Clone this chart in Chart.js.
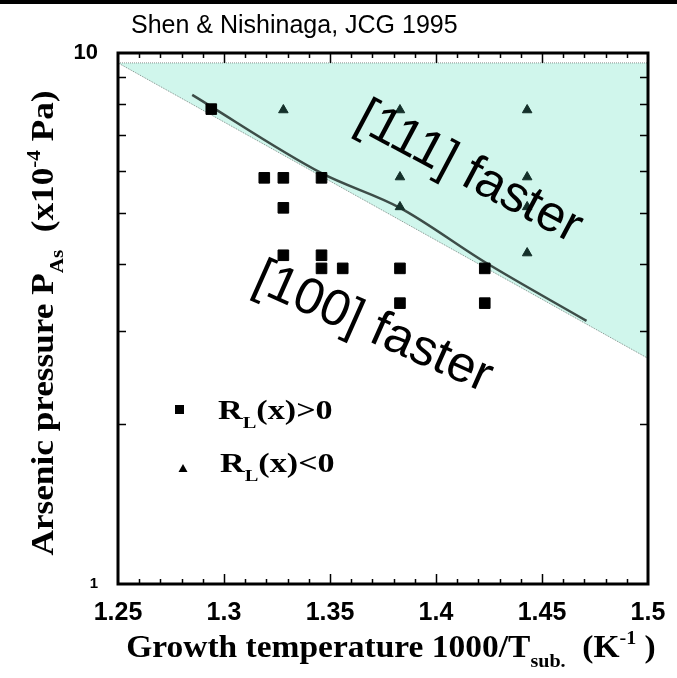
<!DOCTYPE html>
<html>
<head>
<meta charset="utf-8">
<script src="https://cdn.jsdelivr.net/npm/chart.js@4.4.1/dist/chart.umd.min.js"></script>
<style>
  html, body { margin: 0; padding: 0; background: #fff; }
  canvas { display: block; }
</style>
</head>
<body>
<canvas id="chart" width="677" height="678"></canvas>
<script>
// R_L(x) > 0 (squares)
const squareX = [1.294, 1.319, 1.328, 1.346, 1.328, 1.328, 1.346, 1.346, 1.356, 1.383, 1.383, 1.423, 1.423];
const squareY = [7.84, 5.82, 5.82, 5.82, 5.11, 4.16, 4.16, 3.93, 3.93, 3.93, 3.38, 3.93, 3.38];

// R_L(x) < 0 (triangles)
const triX = [1.328, 1.383, 1.383, 1.383, 1.443, 1.443, 1.443, 1.443];
const triY = [7.81, 7.81, 5.84, 5.13, 7.81, 5.84, 5.13, 4.20];

// boundary between [111] and [100] faster
const boundaryX = [1.285, 1.346, 1.383, 1.423, 1.471];
const boundaryY = [8.34, 5.94, 5.11, 4.04, 3.13];

// shaded "[111] faster" region
const shadeX = [1.25, 1.5, 1.5, 1.25];
const shadeY = [9.58, 9.58, 2.66, 9.58];

const xTickValues = [1.25, 1.3, 1.35, 1.4, 1.45, 1.5];
const yTickValues = [1, 10];

const SERIF = '"Liberation Serif", "DejaVu Serif", serif';
const SANS = '"Liberation Sans", Arial, sans-serif';

function toPoints(xs, ys) {
    return xs.map((x, i) => ({ x: x, y: ys[i] }));
}

// text runs with sub/superscripts, e.g. [{t:'R'}, {t:'L', sub:true}]
function runFont(r, size) {
    const s = (r.sub || r.sup) ? size * 0.6 : size;
    return `bold ${s}px ${SERIF}`;
}
function runsWidth(ctx, runs, size, sx) {
    let w = 0;
    runs.forEach(r => { ctx.font = runFont(r, size); w += ctx.measureText(r.t).width; });
    return w * sx;
}
function drawRuns(ctx, runs, x, y, size, sx) {
    ctx.save();
    ctx.translate(x, y);
    ctx.scale(sx, 1);
    ctx.textAlign = 'left';
    ctx.textBaseline = 'alphabetic';
    let cx = 0;
    runs.forEach(r => {
        ctx.font = runFont(r, size);
        let dy = 0;
        if (r.sub) dy = size * 0.32;
        if (r.sup) dy = -size * 0.42;
        ctx.fillText(r.t, cx, dy);
        cx += ctx.measureText(r.t).width;
    });
    ctx.restore();
}

const yTitle = [{ t: 'Arsenic pressure P' }, { t: 'As', sub: true }, { t: '  (x10' }, { t: '-4', sup: true }, { t: ' Pa)' }];
const xTitle = [{ t: 'Growth temperature 1000/T' }, { t: 'sub.', sub: true }, { t: '  (K' }, { t: '-1', sup: true }, { t: ' )' }];
const legendPos = [{ t: 'R' }, { t: 'L', sub: true }, { t: '(x)>0' }];
const legendNeg = [{ t: 'R' }, { t: 'L', sub: true }, { t: '(x)<0' }];

const decorations = {
    id: 'decorations',
    beforeDraw(chart) {
        const ctx = chart.ctx;
        ctx.save();
        ctx.fillStyle = '#fff';
        ctx.fillRect(0, 0, chart.width, chart.height);
        ctx.fillStyle = '#000';
        ctx.fillRect(0, 0, chart.width, 4);
        ctx.restore();
    },
    afterDraw(chart) {
        const ctx = chart.ctx;
        const a = chart.chartArea;
        const x = chart.scales.x;
        const y = chart.scales.y;

        ctx.save();
        ctx.strokeStyle = '#000';
        ctx.lineWidth = 1.5;
        ctx.beginPath();
        // x ticks, inward, top and bottom
        for (let i = 1; i < 25; i++) {
            const px = Math.round(x.getPixelForValue(1.25 + i * 0.01)) + 0.5;
            const len = i % 5 === 0 ? 10 : 5;
            ctx.moveTo(px, a.bottom); ctx.lineTo(px, a.bottom - len);
            ctx.moveTo(px, a.top); ctx.lineTo(px, a.top + len);
        }
        // log minor ticks, left and right
        for (let v = 2; v <= 9; v++) {
            const py = Math.round(y.getPixelForValue(v)) + 0.5;
            ctx.moveTo(a.left, py); ctx.lineTo(a.left + 8, py);
            ctx.moveTo(a.right, py); ctx.lineTo(a.right - 8, py);
        }
        ctx.stroke();

        // frame
        ctx.lineWidth = 3;
        ctx.strokeRect(a.left, a.top, a.right - a.left, a.bottom - a.top);

        // title
        ctx.fillStyle = '#000';
        ctx.font = `25px ${SANS}`;
        ctx.textAlign = 'left';
        ctx.textBaseline = 'alphabetic';
        ctx.fillText('Shen & Nishinaga, JCG 1995', 131, 33);

        // region labels
        ctx.font = `51px ${SANS}`;
        ctx.textAlign = 'center';
        ctx.textBaseline = 'middle';
        ctx.save();
        ctx.translate(469, 173);
        ctx.rotate(28 * Math.PI / 180);
        ctx.fillText('[111] faster', 0, 0);
        ctx.restore();
        ctx.save();
        ctx.translate(373, 328);
        ctx.rotate(24 * Math.PI / 180);
        ctx.fillText('[100] faster', 0, 0);
        ctx.restore();

        // axis titles
        const xs = 31, xsx = 1.08;
        drawRuns(ctx, xTitle, 391 - runsWidth(ctx, xTitle, xs, xsx) / 2, 657, xs, xsx);
        const ys = 32, ysx = 1.1;
        ctx.save();
        ctx.translate(53, 323);
        ctx.rotate(-Math.PI / 2);
        drawRuns(ctx, yTitle, -runsWidth(ctx, yTitle, ys, ysx) / 2, 0, ys, ysx);
        ctx.restore();

        // legend
        ctx.fillStyle = '#000';
        ctx.fillRect(175, 405, 9, 9);
        ctx.beginPath();
        ctx.moveTo(183, 464); ctx.lineTo(187.5, 472); ctx.lineTo(178.5, 472);
        ctx.closePath();
        ctx.fill();
        drawRuns(ctx, legendPos, 218, 419, 28, 1.22);
        drawRuns(ctx, legendNeg, 220, 472, 28, 1.22);
        ctx.restore();
    }
};

new Chart(document.getElementById('chart'), {
    type: 'scatter',
    data: {
        datasets: [
            {
                label: 'R_L(x)>0',
                data: toPoints(squareX, squareY),
                pointStyle: 'rect',
                pointRadius: 7.5,
                backgroundColor: '#000',
                borderColor: '#000',
                borderWidth: 1,
                order: 0
            },
            {
                label: 'R_L(x)<0',
                data: toPoints(triX, triY),
                pointStyle: 'triangle',
                pointRadius: 5.5,
                backgroundColor: '#14302a',
                borderColor: '#14302a',
                borderWidth: 1,
                order: 0
            },
            {
                type: 'line',
                label: 'boundary',
                data: toPoints(boundaryX, boundaryY),
                borderColor: '#3d4d48',
                borderWidth: 2.5,
                tension: 0.4,
                cubicInterpolationMode: 'monotone',
                pointRadius: 0,
                fill: false,
                order: 1
            },
            {
                type: 'line',
                label: '[111] faster',
                data: toPoints(shadeX, shadeY),
                borderColor: 'rgba(90,100,95,0.7)',
                borderWidth: 1,
                borderDash: [1, 1],
                backgroundColor: '#d0f6ec',
                pointRadius: 0,
                fill: 'shape',
                order: 2
            }
        ]
    },
    options: {
        responsive: false,
        animation: false,
        layout: { padding: { top: 53, right: 29, left: 0, bottom: 0 } },
        plugins: {
            legend: { display: false },
            tooltip: { enabled: false }
        },
        scales: {
            x: {
                type: 'linear',
                min: 1.25,
                max: 1.5,
                grid: { display: false },
                border: { display: false },
                afterBuildTicks: s => { s.ticks = xTickValues.map(v => ({ value: v })); },
                afterFit: s => { s.height = 94; },
                ticks: {
                    autoSkip: false,
                    maxRotation: 0,
                    padding: 6,
                    color: '#000',
                    font: { family: SANS, size: 25, weight: 'bold' },
                    callback: v => String(+v.toFixed(2))
                }
            },
            y: {
                type: 'logarithmic',
                min: 1,
                max: 10,
                grid: { display: false },
                border: { display: false },
                afterBuildTicks: s => { s.ticks = yTickValues.map(v => ({ value: v })); },
                afterFit: s => { s.width = 118; },
                ticks: {
                    padding: 12,
                    color: '#000',
                    font: c => ({ family: SANS, size: c.tick && c.tick.value === 1 ? 15 : 22, weight: 'bold' }),
                    callback: v => String(v)
                }
            }
        }
    },
    plugins: [decorations]
});
</script>
</body>
</html>
